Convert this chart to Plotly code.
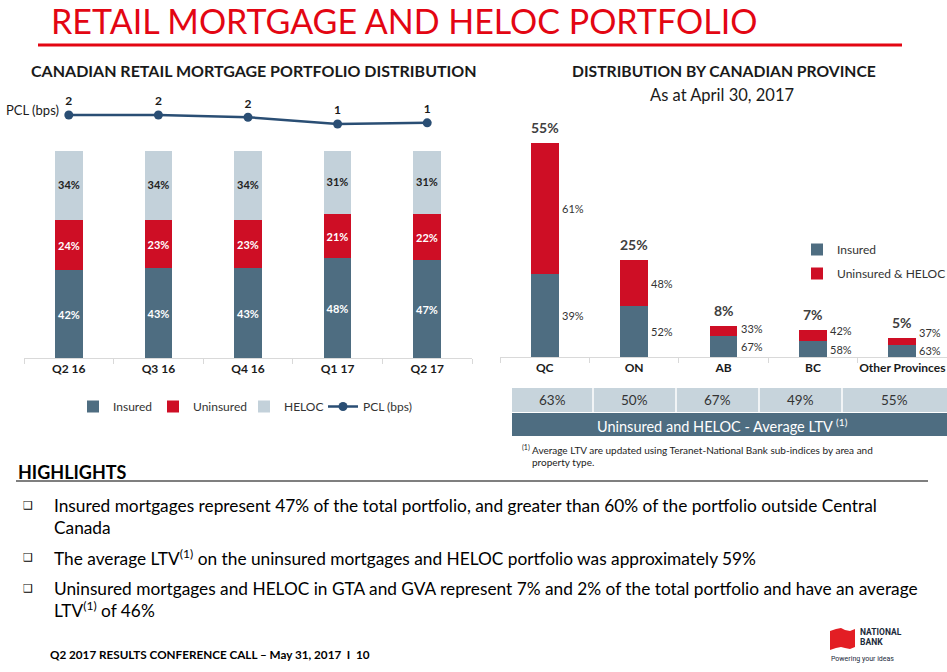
import plotly.graph_objects as go

W, H = 947, 672


def px(x):
    return x / W


def py(y):
    return 1 - y / H


# ---------------- data ----------------
quarters = ["Q2 16", "Q3 16", "Q4 16", "Q1 17", "Q2 17"]
insured = [42, 43, 43, 48, 47]
uninsured = [24, 23, 23, 21, 22]
heloc = [34, 34, 34, 31, 31]
pcl_bps = [1.6, 1.6, 1.5, 1.2, 1.25]
pcl_labels = ["2", "2", "2", "1", "1"]

provinces = ["QC", "ON", "AB", "BC", "Other Provinces"]
prov_total = [55, 25, 8, 7, 5]
prov_insured_share = [39, 52, 67, 58, 63]
prov_uninsured_share = [61, 48, 33, 42, 37]
avg_ltv = ["63%", "50%", "67%", "49%", "55%"]

highlights = [
    ["Insured mortgages represent 47% of the total portfolio, and greater than 60% of the portfolio outside Central",
     "Canada"],
    ["The average LTV<sup>(1)</sup> on the uninsured mortgages and HELOC portfolio was approximately 59%"],
    ["Uninsured mortgages and HELOC in GTA and GVA represent 7% and 2% of the total portfolio and have an average",
     "LTV<sup>(1)</sup> of 46%"],
]

# ---------------- style ----------------
FONT = "Lato, 'Open Sans', sans-serif"
C_INS = "#4E6D81"
C_UNI = "#CE0E25"
C_HEL = "#C3D1DA"
C_PCL = "#2A4E74"
C_RED = "#E30613"
C_TXT = "#1A1A1A"

fig = go.Figure()

# left stacked bars (each legend entry placed on its own legend box)
for name, vals, col, tcol, lg in [("Insured", insured, C_INS, "white", "legend"),
                                  ("Uninsured", uninsured, C_UNI, "white", "legend3"),
                                  ("HELOC", heloc, C_HEL, "#222222", "legend4")]:
    fig.add_trace(go.Bar(
        x=quarters, y=vals, name=name, marker=dict(color=col, line=dict(width=0)),
        width=0.31, text=[f"<b>{v}%</b>" for v in vals], textposition="inside",
        insidetextanchor="middle", textangle=0, constraintext="none",
        textfont=dict(color=tcol, size=11, family=FONT),
        xaxis="x", yaxis="y", legend=lg, hoverinfo="skip"))

fig.add_trace(go.Scatter(
    x=quarters, y=pcl_bps, name="PCL (bps)", mode="lines+markers+text",
    line=dict(color=C_PCL, width=2.5), marker=dict(color=C_PCL, size=9),
    text=[f"<b>{t}</b>" for t in pcl_labels], textposition="top center", cliponaxis=False,
    textfont=dict(size=12, color=C_TXT, family=FONT),
    xaxis="x", yaxis="y2", legend="legend5", hoverinfo="skip"))

# right stacked bars
fig.add_trace(go.Bar(
    x=provinces, y=[t * s / 100 for t, s in zip(prov_total, prov_insured_share)],
    name="Insured", marker=dict(color=C_INS, line=dict(width=0)), width=0.31,
    xaxis="x2", yaxis="y3", legend="legend2", legendgroup="a", hoverinfo="skip"))
fig.add_trace(go.Bar(
    x=provinces, y=[t * s / 100 for t, s in zip(prov_total, prov_uninsured_share)],
    name="Uninsured & HELOC", marker=dict(color=C_UNI, line=dict(width=0)), width=0.31,
    xaxis="x2", yaxis="y3", legend="legend2", legendgroup="b", hoverinfo="skip"))

ann = []
shapes = []


def text(x, y, s, size, color=C_TXT, xanchor="left", bold=False, family=FONT, yanchor="middle"):
    ann.append(dict(x=px(x), y=py(y), xref="paper", yref="paper", text=(f"<b>{s}</b>" if bold else s),
                    showarrow=False, xanchor=xanchor, yanchor=yanchor,
                    font=dict(size=size, color=color, family=family)))


# share labels next to right bars (kept at least ~18px apart), totals above
MIN_SEP = 4.7  # in y3 data units (~18px)
for i, p in enumerate(provinces):
    ins_v = prov_total[i] * prov_insured_share[i] / 100
    uni_v = prov_total[i] * prov_uninsured_share[i] / 100
    y_low = ins_v / 2
    y_up = max(ins_v + uni_v / 2, y_low + MIN_SEP)
    ann.append(dict(x=p, y=y_low, xref="x2", yref="y3", text=f"{prov_insured_share[i]}%",
                    showarrow=False, xanchor="left", xshift=15, font=dict(size=11, color="#333333")))
    ann.append(dict(x=p, y=y_up, xref="x2", yref="y3", text=f"{prov_uninsured_share[i]}%",
                    showarrow=False, xanchor="left", xshift=15, font=dict(size=11, color="#333333")))
    ann.append(dict(x=p, y=prov_total[i], xref="x2", yref="y3", text=f"<b>{prov_total[i]}%</b>",
                    showarrow=False, yanchor="bottom", yshift=5, font=dict(size=14, color="#404040")))

# titles
text(49, 20, "RETAIL MORTGAGE AND HELOC PORTFOLIO", 34, C_RED)
shapes.append(dict(type="line", xref="paper", yref="paper", x0=px(38), x1=px(902), y0=py(45), y1=py(45),
                   line=dict(color=C_RED, width=3)))
text(254, 71, "CANADIAN RETAIL MORTGAGE PORTFOLIO DISTRIBUTION", 16, C_TXT, xanchor="center", bold=True)
text(724, 71, "DISTRIBUTION BY CANADIAN PROVINCE", 15.7, C_TXT, xanchor="center", bold=True)
text(722, 95, "As at April 30, 2017", 16.5, C_TXT, xanchor="center")
text(4, 110, "PCL (bps)", 13, C_TXT)

# LTV table
shapes.append(dict(type="rect", xref="paper", yref="paper", x0=px(512), x1=px(947), y0=py(388), y1=py(412),
                   fillcolor="#C7D4DC", line=dict(width=0), layer="below"))
shapes.append(dict(type="rect", xref="paper", yref="paper", x0=px(512), x1=px(947), y0=py(413), y1=py(436),
                   fillcolor=C_INS, line=dict(width=0), layer="below"))
for sx in [593, 676, 759, 842]:
    shapes.append(dict(type="line", xref="paper", yref="paper", x0=px(sx), x1=px(sx), y0=py(388), y1=py(412),
                       line=dict(color="white", width=1.5)))
for cx, v in zip([552, 634, 717, 800, 894], avg_ltv):
    text(cx, 400, v, 13.5, "#333333", xanchor="center")
text(722, 425, "Uninsured and HELOC - Average LTV <sup>(1)</sup>", 14.5, "white", xanchor="center")
text(520, 449, "<sup>(1)</sup> Average LTV are updated using Teranet-National Bank sub-indices by area and", 10,
     "#222222")
text(530, 462, "property type.", 10, "#222222")

# highlights
text(16, 472, "HIGHLIGHTS", 18, "#000000", bold=True)
shapes.append(dict(type="line", xref="paper", yref="paper", x0=px(16), x1=px(928), y0=py(481), y1=py(481),
                   line=dict(color="#000000", width=1.2)))
ys = [[505, 527], [557], [588, 609]]
for lines, yy in zip(highlights, ys):
    text(21, yy[0], "❑", 11, "#000000", family="DejaVu Sans")
    for ln, y in zip(lines, yy):
        text(52, y, ln, 17.3, "#000000")

# footer
text(48, 654, "Q2 2017 RESULTS CONFERENCE CALL – May 31, 2017  I  10", 11.7, "#000000", bold=True)


def path(points):
    return "M " + " L ".join(f"{px(x)},{py(y)}" for x, y in points) + " Z"


shapes.append(dict(type="path", xref="paper", yref="paper", fillcolor="#E31E24", line=dict(width=0),
                   path=path([(830, 631), (836, 629), (841, 628), (841, 647), (836, 648), (830, 650)])))
shapes.append(dict(type="path", xref="paper", yref="paper", fillcolor="#E31E24", line=dict(width=0),
                   path=path([(841, 628), (845, 630), (850, 631), (855, 629), (855, 647), (850, 649), (845, 648),
                              (841, 647)])))
text(858, 632, "NATIONAL", 8.5, "#1B2A3A", bold=True, family="Roboto")
text(858, 642, "BANK", 8.5, "#1B2A3A", bold=True, family="Roboto")
text(829, 659, "Powering your ideas", 7, "#1B2A3A", family="Roboto")

axis_common = dict(type="category", range=[-0.5, 4.5], showline=True, linecolor="#D9D9D9", linewidth=1,
                   ticks="outside", tickson="boundaries", ticklen=5, tickcolor="#D9D9D9", tickangle=0,
                   showgrid=False, zeroline=False, fixedrange=True, automargin=False,
                   tickfont=dict(size=12, color=C_TXT, family=FONT, weight="bold"))


def left_legend(x_px):
    return dict(orientation="h", x=px(x_px), y=py(392), xanchor="left", yanchor="top",
                font=dict(size=12, color="#333333"), bgcolor="rgba(0,0,0,0)")


fig.update_layout(
    width=W, height=H, autosize=False,
    margin=dict(l=0, r=0, t=0, b=0, autoexpand=False),
    paper_bgcolor="white", plot_bgcolor="white",
    font=dict(family=FONT, color=C_TXT),
    barmode="stack", bargap=0,
    xaxis=dict(domain=[px(24), px(472)], anchor="y", **axis_common),
    yaxis=dict(domain=[py(358), py(149)], range=[0, 100], visible=False, fixedrange=True),
    yaxis2=dict(domain=[py(151), py(106)], range=[0, 2], visible=False, anchor="x", fixedrange=True),
    xaxis2=dict(domain=[px(500), 1], anchor="y3", **axis_common),
    yaxis3=dict(domain=[py(357), py(143)], range=[0, 55], visible=False, anchor="x2", fixedrange=True),
    legend=left_legend(73),
    legend3=left_legend(153),
    legend4=left_legend(244),
    legend5=left_legend(323),
    legend2=dict(orientation="v", x=px(797), y=py(235), xanchor="left", yanchor="top",
                 font=dict(size=12, color="#333333"), traceorder="grouped", tracegroupgap=5,
                 bgcolor="rgba(0,0,0,0)"),
    annotations=ann, shapes=shapes,
    showlegend=True,
)

post = ("document.body.style.margin='0';document.body.style.overflow='hidden';")

fig.write_html("out.html", config={"displayModeBar": False, "responsive": False}, post_script=post)
